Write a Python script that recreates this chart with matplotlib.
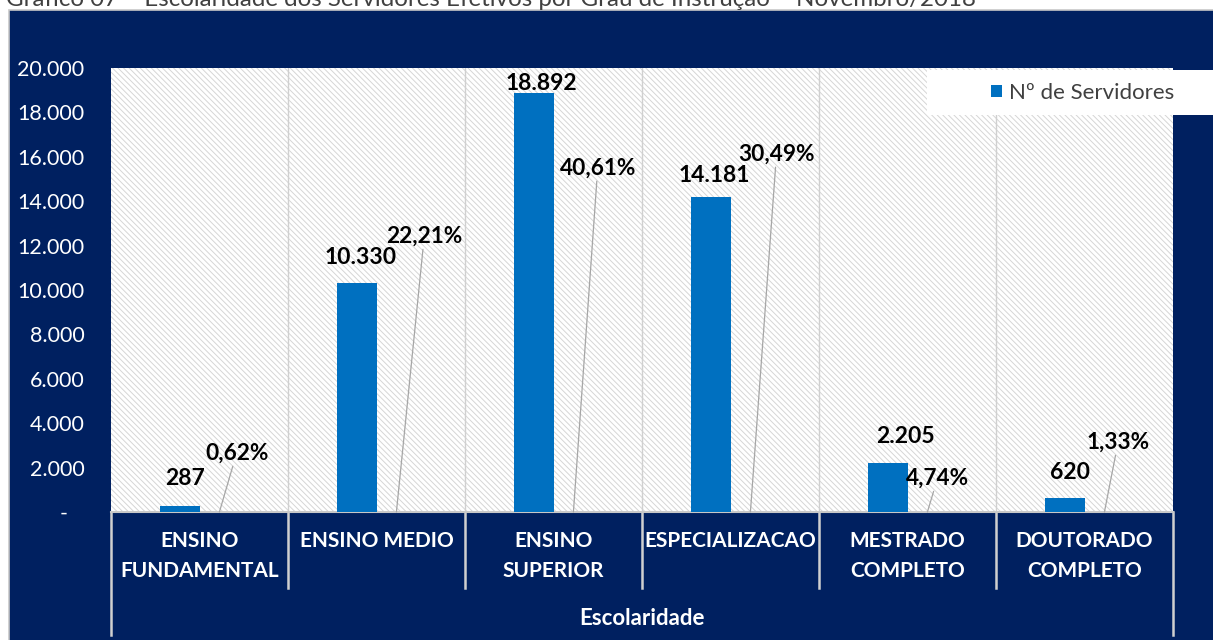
import matplotlib
matplotlib.use("Agg")
import matplotlib.pyplot as plt
from matplotlib.patches import Rectangle
from matplotlib.lines import Line2D

# ---- data ----
categories = ["ENSINO\nFUNDAMENTAL", "ENSINO MEDIO", "ENSINO\nSUPERIOR",
              "ESPECIALIZACAO", "MESTRADO\nCOMPLETO", "DOUTORADO\nCOMPLETO"]
servidores = [287, 10330, 18892, 14181, 2205, 620]
percentuais = [0.62, 22.21, 40.61, 30.49, 4.74, 1.33]
yticks = [0, 2000, 4000, 6000, 8000, 10000, 12000, 14000, 16000, 18000, 20000]
title = "Gráfico 07 – Escolaridade dos Servidores Efetivos por Grau de Instrução – Novembro/2018"
series_name = "Nº de Servidores"
axis_title = "Escolaridade"

# ---- layout (not data) ----
value_label_pos = [(-0.08, 1530), (-0.09, 11480), (-0.07, 19300),
                   (-0.09, 15170), (-0.01, 3390), (-0.08, 1760)]
pct_label_pos = [(0.21, 2660), (0.27, 12430), (0.25, 15500),
                 (0.26, 16130), (0.17, 1530), (0.19, 3150)]

NAVY = "#002060"
BLUE = "#0070C0"
FONT = "Lato"

plt.rcParams['font.family'] = [FONT, 'DejaVu Sans']
plt.rcParams['hatch.linewidth'] = 0.7

W, H = 1213, 640
fig = plt.figure(figsize=(W / 100, H / 100), dpi=100)
fig.patch.set_facecolor("white")

# navy panel
fig.patches.append(Rectangle((9 / W, -0.01), 1.0, (H - 9.5) / H + 0.01,
                             transform=fig.transFigure, facecolor=NAVY,
                             edgecolor="#c8c8c8", linewidth=1.2, zorder=-5))

# title (cut at top)
fig.text(6 / W, 1 - 6 / H, title, ha="left", va="baseline",
         fontsize=17.4, color="#404040", zorder=5)

ax = fig.add_axes([111 / W, 128 / H, (1173 - 111) / W, (512 - 68) / H])
ax.set_facecolor("white")
ax.add_patch(Rectangle((0, 0), 1, 1, transform=ax.transAxes, facecolor="white",
                       edgecolor="#d6d6d6", hatch="\\" * 6, linewidth=0, zorder=0))

n = len(categories)
bw = 0.225
x = list(range(n))
bars = ax.bar([i - bw for i in x], servidores, width=bw, align="edge",
              color=BLUE, zorder=3, label=series_name)

ax.set_xlim(-0.5, n - 0.5)
ax.set_ylim(0, 20000)

# y ticks
ax.set_yticks(yticks)
ax.set_yticklabels(["-   " if v == 0 else f"{v:,}".replace(",", ".") for v in yticks])
ax.tick_params(axis="y", length=0, pad=19, labelsize=15.5, labelcolor="white")
ax.set_xticks([])

for s in ["top", "right", "left"]:
    ax.spines[s].set_visible(False)
ax.spines["bottom"].set_color("#c8c8c8")
ax.spines["bottom"].set_linewidth(1.5)

# vertical gridlines at category boundaries
for b in range(1, n):
    ax.axvline(b - 0.5, color="#d0d0d0", linewidth=1.0, zorder=1)

# separators below axis
for b in range(n + 1):
    bottom = -0.277 if b in (0, n) else -0.171
    ax.add_line(Line2D([b - 0.5, b - 0.5], [0, bottom],
                       transform=ax.get_xaxis_transform(), color="#d0d0d0",
                       linewidth=1.8, clip_on=False))

# category labels
for i, c in enumerate(categories):
    ax.text(i, -0.043, c, transform=ax.get_xaxis_transform(), ha="center",
            va="top", fontsize=15, fontweight="bold", color="white",
            linespacing=1.65)

ax.text(0.5, -0.239, axis_title, transform=ax.transAxes, ha="center",
        va="center", fontsize=16, fontweight="bold", color="white")

# value labels
for i, v in enumerate(servidores):
    dx, y = value_label_pos[i]
    ax.text(i + dx, y, f"{v:,}".replace(",", "."), ha="center", va="center",
            fontsize=16.5, fontweight="bold", color="black", zorder=5)

# percent labels with leader lines
for i, p in enumerate(percentuais):
    dx, y = pct_label_pos[i]
    ax.annotate(f"{p:.2f}%".replace(".", ","), xy=(i + bw / 2, 0),
                xytext=(i + dx, y), ha="center", va="center", fontsize=16.3,
                fontweight="bold", color="black", zorder=5,
                arrowprops=dict(arrowstyle="-", color="#a6a6a6", lw=0.9,
                                shrinkA=0, shrinkB=0))

# legend box (drawn over gridlines, extends past the plot edge)
ax.add_patch(Rectangle((927 / W, (H - 115) / H), (W - 927) / W + 0.01, 45 / H,
                       transform=fig.transFigure, facecolor="white",
                       edgecolor="none", zorder=10, clip_on=False))
leg = ax.legend(handles=[bars], labels=[series_name], loc="center left",
                bbox_to_anchor=(991 / W, 1 - 93 / H),
                bbox_transform=fig.transFigure, frameon=False, fontsize=16,
                handlelength=0.5, handleheight=0.5, handletextpad=0.3,
                borderpad=0, borderaxespad=0)
leg.set_zorder(11)
for t in leg.get_texts():
    t.set_color("#404040")

fig.savefig("out.png", dpi=100, facecolor=fig.get_facecolor())
